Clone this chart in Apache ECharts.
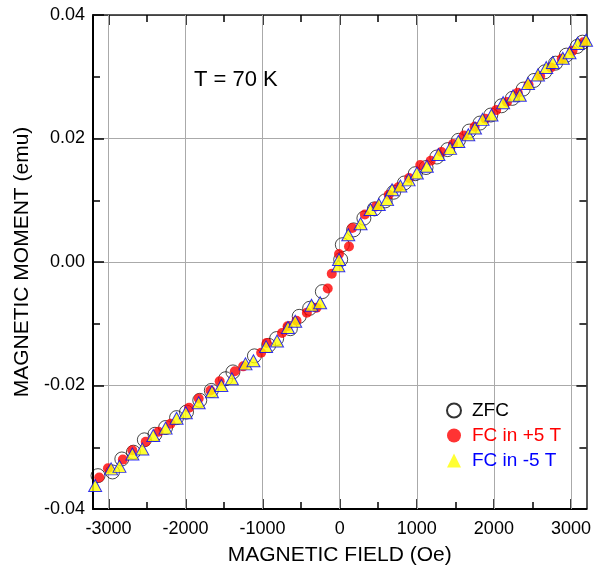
<!DOCTYPE html>
<html>
<head>
<meta charset="utf-8">
<script src="https://cdn.jsdelivr.net/npm/echarts@6/dist/echarts.min.js"></script>
<style>
html,body{margin:0;padding:0;background:#fff;}
#chart{width:594px;height:571px;}
</style>
</head>
<body>
<div id="chart"></div>
<script>
// ---- data ----
const zfcX = [-3135, -2947, -2826, -2676, -2534, -2396, -2258, -2116, -1987, -1815, -1665, -1480, -1385, -1106, -921, -818, -640, -525, -390, -225, 13, 34, 180, 314, 450, 590, 700, 840, 980, 1120, 1260, 1400, 1540, 1680, 1820, 1960, 2100, 2240, 2380, 2520, 2660, 2800, 2940, 3080, 3150];
const zfcY = [-0.0346, -0.0340, -0.0319, -0.0308, -0.0288, -0.0279, -0.0268, -0.0252, -0.0243, -0.0224, -0.0208, -0.0189, -0.0178, -0.0152, -0.0135, -0.0124, -0.0108, -0.0088, -0.0075, -0.0048, 0.0004, 0.0028, 0.0052, 0.0071, 0.0086, 0.0099, 0.0113, 0.0128, 0.0143, 0.0153, 0.0170, 0.0182, 0.0197, 0.0212, 0.0225, 0.0238, 0.0253, 0.0265, 0.0280, 0.0294, 0.0308, 0.0322, 0.0335, 0.0349, 0.0356];

const fcPlusX = [-3119, -3006, -2813, -2690, -2516, -2350, -2194, -1954, -1829, -1677, -1557, -1360, -1252, -1019, -947, -748, -676, -560, -426, -300, -155, -103, -9, 120, 163, 326, 470, 636, 760, 900, 1045, 1180, 1320, 1470, 1610, 1750, 1890, 2030, 2170, 2310, 2450, 2600, 2740, 2880, 3020, 3160];
const fcPlusY = [-0.0349, -0.0334, -0.0320, -0.0305, -0.0291, -0.0275, -0.0262, -0.0236, -0.0221, -0.0208, -0.0193, -0.0177, -0.0169, -0.0147, -0.0131, -0.0115, -0.0104, -0.0095, -0.0082, -0.0074, -0.0043, -0.0019, 0.0013, 0.0025, 0.0055, 0.0077, 0.0090, 0.0109, 0.0121, 0.0136, 0.0157, 0.0164, 0.0178, 0.0191, 0.0205, 0.0219, 0.0232, 0.0246, 0.0259, 0.0274, 0.0287, 0.0301, 0.0315, 0.0329, 0.0342, 0.0356];

const fcMinusX = [-3172, -2965, -2857, -2689, -2560, -2418, -2258, -2116, -1996, -1829, -1657, -1535, -1399, -1222, -1119, -955, -813, -671, -577, -366, -254, -18, -9, 111, 271, 400, 507, 614, 679, 787, 894, 1001, 1130, 1281, 1432, 1539, 1668, 1755, 1853, 1969, 2120, 2249, 2336, 2443, 2572, 2679, 2765, 2894, 2981, 3088, 3195];
const fcMinusY = [-0.0362, -0.0335, -0.0331, -0.0311, -0.0303, -0.0281, -0.0269, -0.0253, -0.0244, -0.0228, -0.0210, -0.0200, -0.0189, -0.0165, -0.0160, -0.0137, -0.0128, -0.0106, -0.0096, -0.0070, -0.0066, -0.0006, 0.0004, 0.0044, 0.0062, 0.0085, 0.0093, 0.0101, 0.0117, 0.0123, 0.0133, 0.0144, 0.0155, 0.0174, 0.0184, 0.0195, 0.0206, 0.0217, 0.0231, 0.0238, 0.0258, 0.0269, 0.0270, 0.0289, 0.0303, 0.0315, 0.0323, 0.0330, 0.0339, 0.0354, 0.0359];

const seriesNames = ['ZFC', 'FC in +5 T', 'FC in -5 T'];
const xMajorTicks = [-3000, -2000, -1000, 0, 1000, 2000, 3000];
const xMinorTicks = [-2500, -1500, -500, 500, 1500, 2500];
const xRange = [-3200, 3200];
const yRange = [-0.04, 0.04];
const yStep = 0.02;
const annotation = 'T = 70 K';

const pairs = (xs, ys) => xs.map((x, i) => [x, ys[i]]);
const FONT = '"Liberation Sans", Arial, sans-serif';

const chart = echarts.init(document.getElementById('chart'), null, {renderer: 'canvas'});

const baseX = {
  type: 'value', min: xRange[0], max: xRange[1],
  splitLine: {show: false}, minorTick: {show: false}
};

const option = {
  animation: false,
  backgroundColor: '#fff',
  textStyle: {fontFamily: FONT},
  grid: {left: 93, top: 15, width: 496, height: 495, containLabel: false},
  xAxis: [
    Object.assign({}, baseX, {
      position: 'bottom',
      name: 'MAGNETIC FIELD (Oe)', nameLocation: 'middle', nameGap: 36,
      nameTextStyle: {fontSize: 21, color: '#000', fontFamily: FONT},
      axisLine: {show: true, onZero: false, lineStyle: {color: '#000', width: 2}},
      axisTick: {show: true, inside: true, length: 10, customValues: xMajorTicks, lineStyle: {color: '#000', width: 1.5}},
      axisLabel: {show: true, margin: 11, fontSize: 18, color: '#000', fontFamily: FONT, customValues: xMajorTicks, formatter: v => String(v)}
    }),
    Object.assign({}, baseX, {
      position: 'bottom',
      axisLine: {show: false, onZero: false},
      axisTick: {show: true, inside: true, length: 7, customValues: xMinorTicks, lineStyle: {color: '#000', width: 1.5}},
      axisLabel: {show: false}
    }),
    Object.assign({}, baseX, {
      position: 'top',
      axisLine: {show: true, onZero: false, lineStyle: {color: '#222', width: 1.5}},
      axisTick: {show: true, inside: true, length: 10, customValues: xMajorTicks, lineStyle: {color: '#000', width: 1.5}},
      axisLabel: {show: false}
    }),
    Object.assign({}, baseX, {
      position: 'top',
      axisLine: {show: false, onZero: false},
      axisTick: {show: true, inside: true, length: 7, customValues: xMinorTicks, lineStyle: {color: '#000', width: 1.5}},
      axisLabel: {show: false}
    })
  ],
  yAxis: [
    {
      type: 'value', position: 'left', min: yRange[0], max: yRange[1], interval: yStep,
      name: 'MAGNETIC MOMENT (emu)', nameLocation: 'middle', nameGap: 60, nameRotate: 90,
      nameTextStyle: {fontSize: 21, color: '#000', fontFamily: FONT},
      axisLine: {show: true, onZero: false, lineStyle: {color: '#000', width: 2}},
      axisTick: {show: true, inside: true, length: 11, lineStyle: {color: '#000', width: 1.5}},
      minorTick: {show: true, splitNumber: 2, length: 7, lineStyle: {color: '#000', width: 1.5}},
      axisLabel: {show: true, margin: 8, fontSize: 18, color: '#000', fontFamily: FONT, formatter: v => v.toFixed(2)},
      splitLine: {show: true, lineStyle: {color: '#aaaaaa', width: 1}}
    },
    {
      type: 'value', position: 'right', min: yRange[0], max: yRange[1], interval: yStep,
      axisLine: {show: true, onZero: false, lineStyle: {color: '#222', width: 1.5}},
      axisTick: {show: true, inside: true, length: 10, lineStyle: {color: '#000', width: 1.5}},
      minorTick: {show: true, splitNumber: 2, length: 7, lineStyle: {color: '#000', width: 1.5}},
      axisLabel: {show: false},
      splitLine: {show: false}
    }
  ],
  legend: {
    orient: 'vertical', left: 441, top: 396,
    itemWidth: 14, itemHeight: 14, itemGap: 6,
    symbolKeepAspect: true,
    textStyle: {fontSize: 19, fontFamily: FONT, lineHeight: 19, padding: [0, 0, 0, 6]},
    selectedMode: false,
    data: [
      {name: seriesNames[0], textStyle: {color: '#000000'}},
      {name: seriesNames[1], textStyle: {color: '#ff0000'}},
      {name: seriesNames[2], textStyle: {color: '#0000ff'}, itemStyle: {borderWidth: 0}}
    ]
  },
  graphic: [{
    type: 'text', left: 194, top: 69, z: 10,
    style: {text: annotation, font: '22px ' + FONT, fill: '#000'}
  }],
  series: [
    {
      type: 'line', name: 'grid', data: [], z: 1, silent: true,
      markLine: {
        silent: true, z: 1, symbol: ['none', 'none'], animation: false,
        label: {show: false},
        lineStyle: {color: '#aaaaaa', width: 1, type: 'solid'},
        data: xMajorTicks.map(v => ({xAxis: v}))
      }
    },
    {
      type: 'scatter', name: seriesNames[0], z: 3,
      symbol: 'circle', symbolSize: 14,
      itemStyle: {color: 'rgba(255,255,255,0)', borderColor: '#000', borderWidth: 0.9},
      data: pairs(zfcX, zfcY)
    },
    {
      type: 'scatter', name: seriesNames[1], z: 4,
      symbol: 'circle', symbolSize: 10,
      itemStyle: {color: '#ff0000', borderWidth: 0},
      data: pairs(fcPlusX, fcPlusY)
    },
    {
      type: 'scatter', name: seriesNames[2], z: 5,
      symbol: 'triangle', symbolSize: [13, 12],
      itemStyle: {color: '#ffff00', borderColor: '#0000ff', borderWidth: 1},
      data: pairs(fcMinusX, fcMinusY)
    }
  ]
};
chart.setOption(option);
</script>
</body>
</html>
